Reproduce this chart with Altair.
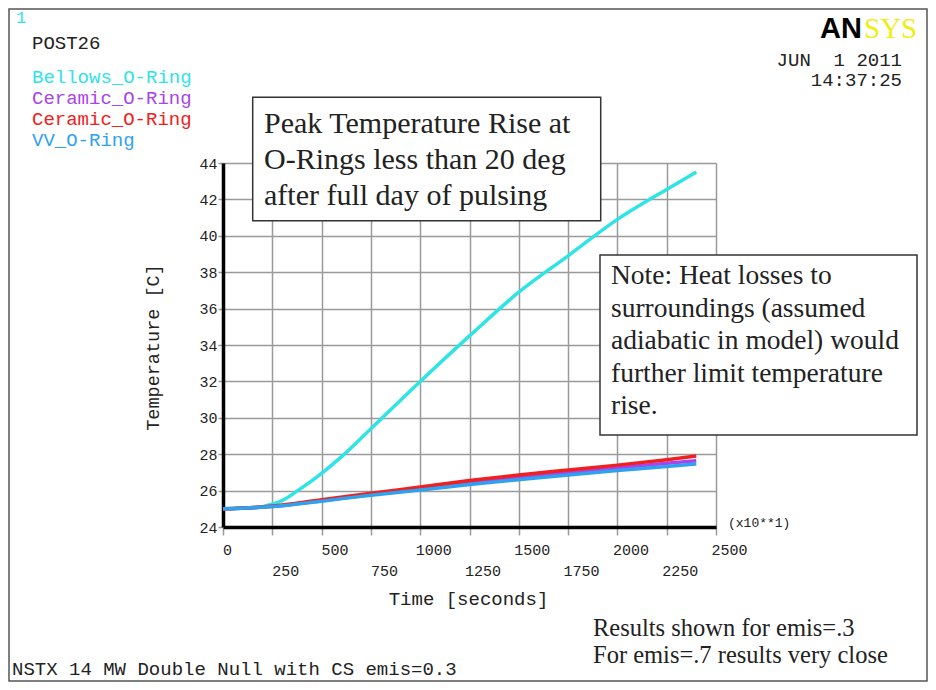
import altair as alt
import pandas as pd

# ---------------- data ----------------
bellows_time = [0, 100, 200, 250, 300, 390, 500, 610, 750, 1000, 1250, 1500, 1750, 2000, 2250, 2400]
bellows_temp = [25.0, 25.03, 25.12, 25.25, 25.45, 26.08, 26.95, 27.95, 29.4, 32.0, 34.5, 36.9, 38.9, 40.9, 42.55, 43.5]

ring_time = [0, 250, 500, 750, 1000, 1250, 1500, 1750, 2000, 2250, 2400]
ceramic_a_temp = [25.0, 25.12, 25.45, 25.78, 26.1, 26.4, 26.7, 26.98, 27.25, 27.5, 27.64]
ceramic_b_temp = [25.0, 25.15, 25.5, 25.85, 26.2, 26.55, 26.86, 27.13, 27.4, 27.7, 27.9]
vv_temp = [25.0, 25.12, 25.42, 25.75, 26.03, 26.33, 26.6, 26.86, 27.1, 27.33, 27.46]

series_ids = ["bellows", "ceramic_a", "ceramic_b", "vv"]
series_labels = ["Bellows_O-Ring", "Ceramic_O-Ring", "Ceramic_O-Ring", "VV_O-Ring"]
series_colors = ["#2EE4E4", "#A844EC", "#F02020", "#2EA2EE"]

x_ticks = [0, 250, 500, 750, 1000, 1250, 1500, 1750, 2000, 2250, 2500]
y_ticks = [24, 26, 28, 30, 32, 34, 36, 38, 40, 42, 44]

box1_lines = ["Peak Temperature Rise at", "O-Rings less than 20 deg", "after full day of pulsing"]
box2_lines = ["Note: Heat losses to", "surroundings (assumed", "adiabatic in model) would",
              "further limit temperature", "rise."]
results_lines = ["Results shown for emis=.3", "For emis=.7 results very close"]
footer_text = "NSTX 14 MW Double Null with CS emis=0.3"
date_text = "JUN\u00a0\u00a01 2011"
time_text = "14:37:25"

# ---------------- build table ----------------
rows = []
for t, v in zip(bellows_time, bellows_temp):
    rows.append({"time": t, "temp": v, "series": "bellows"})
for sid, vals in zip(["ceramic_a", "ceramic_b", "vv"], [ceramic_a_temp, ceramic_b_temp, vv_temp]):
    for t, v in zip(ring_time, vals):
        rows.append({"time": t, "temp": v, "series": sid})
df = pd.DataFrame(rows)

MONO = "Liberation Mono"
SERIF = "Liberation Serif"
GRID = "#9a9a9a"

lines = alt.Chart(df).mark_line(strokeWidth=3.5, interpolate="monotone").encode(
    x=alt.X("time:Q",
            scale=alt.Scale(domain=[0, 2500], nice=False, zero=False),
            axis=alt.Axis(values=x_ticks, format="d", title="Time [seconds]",
                          grid=True, gridColor=GRID, gridWidth=1.5,
                          domainColor="black", domainWidth=3.5,
                          tickColor=GRID, tickWidth=1.5, tickSize=8,
                          labelFont=MONO, labelFontSize=15, labelColor="#222",
                          labelAlign="center", labelBaseline="top",
                          labelPadding={"condition": {"test": "datum.value % 500 != 0", "value": 28}, "value": 7},
                          labelOffset={"condition": {"test": "datum.value == 0", "value": 4}, "value": 13},
                          labelFlush=False, labelOverlap=False,
                          titleFont=MONO, titleFontSize=19, titleFontWeight="normal",
                          titleColor="#222", titleX=245, titleY=71, titleBaseline="middle")),
    y=alt.Y("temp:Q",
            scale=alt.Scale(domain=[24, 44], nice=False, zero=False),
            axis=alt.Axis(values=y_ticks, format="d", title="Temperature [C]",
                          grid=True, gridColor=GRID, gridWidth=1.5,
                          domainColor="black", domainWidth=3.5,
                          tickColor=GRID, tickWidth=1.5, tickSize=5,
                          labelFont=MONO, labelFontSize=15, labelColor="#222",
                          labelPadding=1, labelFlush=False, labelOverlap=False,
                          titleFont=MONO, titleFontSize=18.5, titleFontWeight="normal",
                          titleColor="#222", titleX=-71, titleY=184,
                          titleAlign="center", titleBaseline="middle")),
    color=alt.Color("series:N", scale=alt.Scale(domain=series_ids, range=series_colors), legend=None),
    order=alt.Order("time:Q"),
)

one = pd.DataFrame({"k": [0]})


def text(txt, x, y, font=MONO, size=19, color="#222", align="left", baseline="middle",
         weight="normal", line_height=None):
    kw = dict(font=font, fontSize=size, color=color, align=align, baseline=baseline, fontWeight=weight)
    if line_height is not None:
        kw["lineHeight"] = line_height
    return alt.Chart(one).mark_text(**kw).encode(x=alt.value(x), y=alt.value(y), text=alt.value(txt))


def box(x, x2, y, y2, fill="white", stroke="#333", sw=1.5):
    return alt.Chart(one).mark_rect(fill=fill, stroke=stroke, strokeWidth=sw).encode(
        x=alt.value(x), x2=alt.value(x2), y=alt.value(y), y2=alt.value(y2))


frame = alt.Chart(one).mark_rect(fill=None, stroke="#555", strokeWidth=1.5).encode(
    x=alt.value(-214), x2=alt.value(704), y=alt.value(-154), y2=alt.value(518))

layers = [frame, lines,
          box(29.7, 377.7, -65.7, 57.7),
          text(box1_lines, 41, -30.3, font=SERIF, size=30, baseline="alphabetic", line_height=36),
          box(377, 694, 92, 272),
          text(box2_lines, 388, 121, font=SERIF, size=27.5, baseline="alphabetic", line_height=32.5),
          text(results_lines, 370, 473, font=SERIF, size=24.5, baseline="alphabetic", line_height=27),
          text(footer_text, -211, 506, size=19),
          text("(x10**1)", 505, 360, size=13),
          text("1", -207, -145, size=17, color=series_colors[0]),
          text("POST26", -191, -120, size=19),
          text(date_text, 679, -103, size=19, align="right"),
          text(time_text, 679, -83, size=19, align="right"),
          text("AN", 597, -125, font="Liberation Sans", size=29, weight="bold", color="black",
               baseline="alphabetic"),
          text("SYS", 641, -125, font=SERIF, size=29, color="#F0EE10", baseline="alphabetic"),
          ]
legend_y = [-86, -65, -44, -23]
for lab, col, yy in zip(series_labels, series_colors, legend_y):
    layers.append(text(lab, -191, yy, size=19, color=col))

chart = alt.layer(*layers).properties(
    width=493, height=364,
    autosize=alt.AutoSizeParams(type="none"),
    padding={"left": 215, "top": 155, "right": 212, "bottom": 155},
    background="white",
).configure_view(stroke=None)

chart.save("out.html", embed_options={"renderer": "svg", "actions": False})
